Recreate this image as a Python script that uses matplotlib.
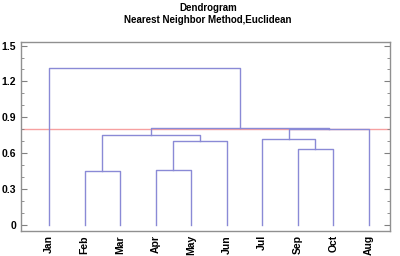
import matplotlib.pyplot as plt
from matplotlib.ticker import MultipleLocator

# leaves in display order
labels = ['Jan', 'Feb', 'Mar', 'Apr', 'May', 'Jun', 'Jul', 'Sep', 'Oct', 'Aug']
# merges: (cluster a, cluster b, distance); new clusters numbered from len(labels)
merge_a = [1, 3, 7, 11, 6, 10, 14, 15, 0]
merge_b = [2, 4, 8, 5, 12, 13, 9, 16, 17]
merge_h = [0.45, 0.46, 0.635, 0.70, 0.72, 0.755, 0.80, 0.81, 1.31]
cutoff = 0.80

plt.rcParams['font.family'] = ['Liberation Sans', 'DejaVu Sans']
fig = plt.figure(figsize=(4, 2.56), dpi=100)
ax = fig.add_axes([0.0525, 0.098, 0.9225, 0.738])

ax.axhline(cutoff, color='#f7a0a0', lw=1.0, zorder=1)

pos = {i: (float(i), 0.0) for i in range(len(labels))}
line_col = '#8a8ad6'
for k, (a, b, h) in enumerate(zip(merge_a, merge_b, merge_h)):
    xa, ya = pos[a]
    xb, yb = pos[b]
    ax.plot([xa, xa, xb, xb], [ya, h, h, yb], color=line_col, lw=1.0, zorder=2)
    pos[len(labels) + k] = ((xa + xb) / 2, h)

ax.set_xlim(-0.79, 9.6)
ax.set_ylim(-0.05, 1.53)
ax.set_xticks(range(len(labels)))
ax.set_xticklabels(labels, rotation=90, fontsize=7.5, fontweight='bold')
ax.tick_params(axis='x', length=0, pad=3)
ax.yaxis.set_major_locator(MultipleLocator(0.3))
ax.yaxis.set_minor_locator(MultipleLocator(0.1))
ax.set_yticks([0, 0.3, 0.6, 0.9, 1.2, 1.5])
ax.set_yticklabels(['0', '0.3', '0.6', '0.9', '1.2', '1.5'], fontsize=7.5, fontweight='bold')
ax.tick_params(axis='y', which='both', direction='in', right=True, color='#808080')
ax.tick_params(axis='y', which='major', length=4)
ax.tick_params(axis='y', which='minor', length=2)
for s in ax.spines.values():
    s.set_color('#909090')
    s.set_linewidth(1.0)

fig.text(0.52, 0.968, 'Dendrogram', ha='center', va='center', fontsize=7, fontweight='bold')
fig.text(0.52, 0.922, 'Nearest Neighbor Method,Euclidean', ha='center', va='center',
         fontsize=7, fontweight='bold')

fig.savefig('out.png', dpi=100)
